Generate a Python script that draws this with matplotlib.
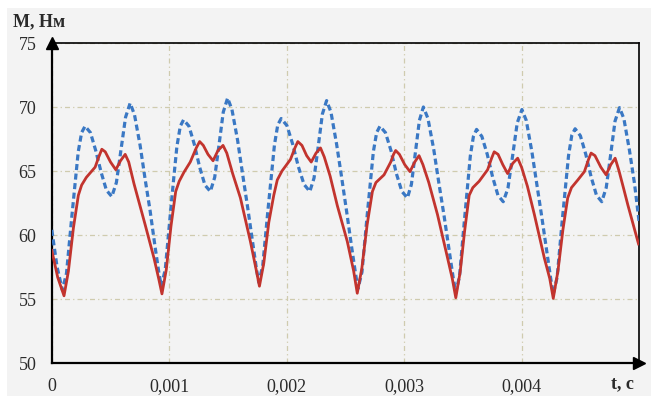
import matplotlib
matplotlib.use("Agg")
import matplotlib.pyplot as plt
from matplotlib.patches import Rectangle
import numpy as np

# time in ms (converted to s when plotting), torque in N*m
t_blue = [0.000, 0.045, 0.090, 0.125, 0.169, 0.200, 0.225, 0.254, 0.283, 0.329, 0.374, 0.420, 0.465, 0.511,
          0.550, 0.589, 0.628, 0.667, 0.704, 0.752, 0.794, 0.837, 0.879, 0.911, 0.932,
          0.966, 1.010, 1.040, 1.065, 1.094, 1.122, 1.168, 1.213, 1.259, 1.304, 1.350,
          1.387, 1.424, 1.460, 1.497, 1.534, 1.582, 1.624, 1.667, 1.709, 1.741, 1.762,
          1.796, 1.840, 1.871, 1.896, 1.924, 1.953, 2.002, 2.051, 2.099, 2.148, 2.197,
          2.233, 2.269, 2.304, 2.340, 2.377, 2.425, 2.468, 2.511, 2.554, 2.586, 2.607,
          2.641, 2.684, 2.714, 2.738, 2.766, 2.794, 2.841, 2.888, 2.934, 2.981, 3.028,
          3.062, 3.096, 3.130, 3.164, 3.203, 3.252, 3.296, 3.341, 3.385, 3.418, 3.440,
          3.472, 3.513, 3.541, 3.564, 3.590, 3.617, 3.662, 3.708, 3.753, 3.799, 3.844,
          3.884, 3.924, 3.963, 4.003, 4.040, 4.088, 4.131, 4.174, 4.217, 4.249, 4.270,
          4.303, 4.346, 4.376, 4.400, 4.428, 4.456, 4.501, 4.547, 4.592, 4.638, 4.683,
          4.721, 4.759, 4.796, 4.834, 4.871, 4.919, 4.962, 5.000]
m_blue = [60.4, 57.5, 55.7, 57.0, 61.3, 64.2, 66.5, 68.0, 68.5, 68.0, 66.6, 64.9, 63.5, 63.0,
          64.1, 66.65, 69.2, 70.3, 69.4, 67.0, 64.4, 61.9, 59.1, 57.1, 56.0,
          57.3, 61.7, 64.6, 66.9, 68.5, 69.0, 68.5, 67.1, 65.3, 63.9, 63.4,
          64.5, 67.05, 69.6, 70.7, 69.8, 67.4, 64.8, 62.2, 59.5, 57.45, 56.3,
          57.6, 61.9, 64.75, 67.05, 68.6, 69.1, 68.55, 67.1, 65.35, 63.95, 63.4,
          64.45, 66.95, 69.45, 70.5, 69.6, 67.1, 64.5, 61.8, 59.0, 57.0, 55.8,
          57.1, 61.4, 64.2, 66.5, 68.0, 68.5, 68.0, 66.6, 64.8, 63.4, 62.9,
          63.95, 66.45, 68.95, 70.0, 69.1, 66.7, 64.05, 61.45, 58.7, 56.65, 55.5,
          56.8, 61.1, 63.9, 66.2, 67.7, 68.25, 67.7, 66.3, 64.55, 63.1, 62.6,
          63.65, 66.2, 68.75, 69.8, 68.95, 66.5, 63.9, 61.3, 58.6, 56.55, 55.4,
          56.7, 61.1, 63.9, 66.2, 67.8, 68.3, 67.75, 66.3, 64.55, 63.1, 62.6,
          63.7, 66.3, 68.9, 69.95, 69.1, 66.6, 64.0, 61.1]

t_red = [0.000, 0.050, 0.104, 0.141, 0.184, 0.226, 0.254, 0.294, 0.369, 0.400, 0.426, 0.455, 0.500, 0.545,
         0.585, 0.625, 0.655, 0.700, 0.795, 0.870, 0.910, 0.938,
         0.975, 1.015, 1.055, 1.085, 1.125, 1.179, 1.230, 1.259, 1.290, 1.330, 1.373,
         1.415, 1.458, 1.490, 1.540, 1.606, 1.691, 1.740, 1.768,
         1.805, 1.848, 1.890, 1.920, 1.960, 2.032, 2.070, 2.095, 2.130, 2.170, 2.209,
         2.250, 2.288, 2.320, 2.370, 2.431, 2.516, 2.570, 2.601,
         2.640, 2.685, 2.730, 2.760, 2.829, 2.886, 2.910, 2.928, 2.960, 3.005, 3.050,
         3.090, 3.127, 3.160, 3.210, 3.284, 3.370, 3.410, 3.440,
         3.477, 3.515, 3.554, 3.585, 3.639, 3.711, 3.745, 3.767, 3.800, 3.840, 3.881,
         3.925, 3.967, 4.000, 4.050, 4.109, 4.194, 4.240, 4.270,
         4.310, 4.352, 4.393, 4.425, 4.479, 4.535, 4.570, 4.592, 4.625, 4.675, 4.720,
         4.760, 4.797, 4.830, 4.870, 4.905, 4.996]
m_red = [58.8, 56.7, 55.25, 57.15, 60.55, 63.1, 63.9, 64.5, 65.3, 66.1, 66.7, 66.5, 65.7, 65.1,
         65.8, 66.3, 65.7, 64.0, 60.8, 58.2, 56.6, 55.4,
         57.3, 60.7, 63.4, 64.2, 64.9, 65.7, 66.8, 67.3, 67.0, 66.3, 65.8,
         66.6, 67.0, 66.4, 64.8, 62.9, 59.5, 57.3, 56.0,
         57.8, 61.0, 63.1, 64.3, 65.0, 65.9, 66.8, 67.3, 67.0, 66.2, 65.7,
         66.4, 66.8, 66.1, 64.6, 62.3, 59.5, 57.2, 55.45,
         57.4, 60.8, 63.4, 64.1, 64.7, 65.7, 66.3, 66.6, 66.3, 65.5, 64.95,
         65.7, 66.2, 65.5, 64.1, 61.6, 58.2, 56.6, 55.1,
         57.1, 60.3, 63.1, 63.7, 64.2, 65.1, 66.0, 66.5, 66.3, 65.5, 64.8,
         65.6, 66.0, 65.3, 63.8, 61.6, 58.2, 56.6, 55.05,
         57.2, 60.4, 62.9, 63.7, 64.3, 64.95, 65.9, 66.4, 66.2, 65.3, 64.7,
         65.5, 66.0, 65.0, 63.6, 62.35, 59.3]

x_ticks = [0, 0.001, 0.002, 0.003, 0.004]
x_labels = ['0', '0,001', '0,002', '0,003', '0,004']
y_ticks = [50, 55, 60, 65, 70, 75]

bg = '#f3f3f3'
fig = plt.figure(figsize=(6.51, 3.96), dpi=100, facecolor='white')
fig.patches.append(Rectangle((7 / 651, 0), 1, 388 / 396, transform=fig.transFigure,
                             facecolor=bg, edgecolor='none', zorder=-10))
ax = fig.add_axes([51.8 / 651, 33 / 396, (639 - 51.8) / 651, 320 / 396])
ax.set_facecolor(bg)

tb = np.array(t_blue) * 1e-3
tr = np.array(t_red) * 1e-3
ax.plot(tb, m_blue, color='#3a78c4', lw=2.3, linestyle=(0, (1.9, 1.1)), zorder=3)
ax.plot(tr, m_red, color='#c2342e', lw=2.0, zorder=4)

ax.set_xlim(0, 0.005)
ax.set_ylim(50, 75)
ax.set_xticks(x_ticks)
ax.set_xticklabels(x_labels)
ax.set_yticks(y_ticks)

ax.grid(True, color='#cfcbae', lw=0.9, linestyle=(0, (4, 2.5, 1, 2.5)))
ax.set_axisbelow(True)
ax.tick_params(length=0, labelsize=13, colors='#2a2a2a', pad=11)
for lbl in ax.get_xticklabels() + ax.get_yticklabels():
    lbl.set_fontfamily('Liberation Serif')

for side in ['left', 'bottom']:
    ax.spines[side].set_linewidth(1.6)
for side in ['top', 'right']:
    ax.spines[side].set_linewidth(1.2)
for s in ax.spines.values():
    s.set_color('black')

# arrow heads on the axes
ax.plot([0], [1], marker='^', color='black', markersize=8, transform=ax.transAxes, clip_on=False, zorder=6)
ax.plot([1], [0], marker='>', color='black', markersize=8, transform=ax.transAxes, clip_on=False, zorder=6)

fig.text(13 / 651, 1 - 22 / 396, 'М, Нм', fontsize=13, fontweight='bold', family='Liberation Serif',
         color='#2a2a2a', va='center', ha='left')
fig.text(622 / 651, 1 - 384 / 396, 't, c', fontsize=13, fontweight='bold', family='Liberation Serif',
         color='#2a2a2a', va='center', ha='center')

fig.savefig('out.png', dpi=100, facecolor=fig.get_facecolor())
